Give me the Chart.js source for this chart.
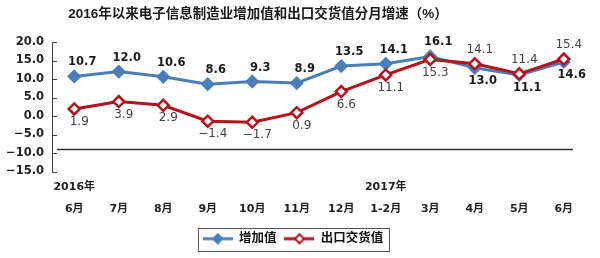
<!DOCTYPE html>
<html>
<head>
<meta charset="utf-8">
<script src="https://cdn.jsdelivr.net/npm/chart.js@4.4.1/dist/chart.umd.min.js"></script>
<style>
  html, body { margin:0; padding:0; background:#fff; }
  #wrap { width:600px; height:258px; }
</style>
</head>
<body>
<div id="wrap"><canvas id="chart" width="600" height="258"></canvas></div>
<script>
// ================= DATA =================
const months = ["6月","7月","8月","9月","10月","11月","12月","1-2月","3月","4月","5月","6月"];
const years = ["2016年","","","","","","","2017年","","","",""];
const addedValue = [10.7,12.0,10.6,8.6,9.3,8.9,13.5,14.1,16.1,13.0,11.1,14.6];
const exportValue = [1.9,3.9,2.9,-1.4,-1.7,0.9,6.6,11.1,15.3,14.1,11.4,15.4];
const yMin = -15, yMax = 20, yStep = 5;
const refLineValue = -9;
const titleText = "2016年以来电子信息制造业增加值和出口交货值分月增速（%）";

const BLUE = "#4a7ebb";
const RED = "#b5121b";
const flipIndex = 9; // from 4月 on, labels swap sides

const fmt = v => v.toFixed(1).replace("-", "−");

// legend icons: line with a diamond in the middle
function legendIcon(color, fill){
    const c = document.createElement("canvas");
    c.width = 30; c.height = 12;
    const g = c.getContext("2d");
    g.strokeStyle = color; g.lineWidth = 3;
    g.beginPath(); g.moveTo(0,6); g.lineTo(30,6); g.stroke();
    g.beginPath();
    g.moveTo(15,1.5); g.lineTo(19.5,6); g.lineTo(15,10.5); g.lineTo(10.5,6); g.closePath();
    g.fillStyle = fill; g.fill();
    g.lineWidth = 2; g.stroke();
    return c;
}
const icons = [legendIcon(BLUE, BLUE), legendIcon(RED, "#fff")];

// ================= PLUGINS =================
const extras = {
    id: "extras",
    beforeDatasetsDraw(chart){
        const {ctx, chartArea, scales:{y}} = chart;
        ctx.save();
        // reference line
        const ry = Math.round(y.getPixelForValue(refLineValue)) + 0.5;
        ctx.strokeStyle = "#333"; ctx.lineWidth = 1.5;
        ctx.beginPath(); ctx.moveTo(chartArea.left + 5, ry); ctx.lineTo(chartArea.right - 13, ry); ctx.stroke();
        // inner tick marks
        ctx.lineWidth = 1; ctx.strokeStyle = "#444";
        y.ticks.forEach(t => {
            const py = Math.round(y.getPixelForValue(t.value)) + 0.5;
            ctx.beginPath(); ctx.moveTo(chartArea.left, py); ctx.lineTo(chartArea.left + 5, py); ctx.stroke();
        });
        ctx.restore();
    },
    afterDatasetsDraw(chart){
        const ctx = chart.ctx;
        ctx.save();
        ctx.textAlign = "center"; ctx.textBaseline = "middle";
        chart.data.datasets.forEach((ds, i) => {
            const meta = chart.getDatasetMeta(i);
            meta.data.forEach((pt, j) => {
                const above = i === 0 ? j < flipIndex : j >= flipIndex;
                if(i === 0){ ctx.font = "bold 11.5px 'DejaVu Sans'"; ctx.fillStyle = "#1a1a1a"; }
                else { ctx.font = "12px 'DejaVu Sans'"; ctx.fillStyle = "#444"; }
                const dx = i === 0 ? 8 : 5;
                ctx.fillText(fmt(ds.data[j]), pt.x + dx, pt.y + (above ? -14 : 13));
            });
        });
        ctx.restore();
    },
    afterDraw(chart){
        const ctx = chart.ctx;
        ctx.save();
        // title
        ctx.font = "bold 13.5px 'Liberation Sans','Noto Sans CJK SC'";
        ctx.fillStyle = "#1a1a1a"; ctx.textAlign = "center"; ctx.textBaseline = "middle";
        ctx.fillText(titleText, 258, 14);
        // legend frame
        const boxes = chart.legend.legendHitBoxes;
        if(boxes && boxes.length){
            const l = Math.min(...boxes.map(b => b.left)) - 5;
            const r = Math.max(...boxes.map(b => b.left + b.width)) + 5;
            const t = Math.min(...boxes.map(b => b.top)) - 5;
            const b2 = Math.max(...boxes.map(b => b.top + b.height)) + 5;
            ctx.strokeStyle = "#555"; ctx.lineWidth = 1;
            ctx.strokeRect(Math.round(l) + 0.5, Math.round(t) + 0.5, Math.round(r - l), Math.round(b2 - t));
        }
        ctx.restore();
    }
};

// ================= CHART =================
new Chart(document.getElementById("chart"), {
    type: "line",
    data: {
        labels: months.map((m, i) => [years[i], m]),
        datasets: [
            {
                label: "增加值", data: addedValue, order: 2,
                borderColor: BLUE, backgroundColor: BLUE, borderWidth: 3,
                pointStyle: "rectRot", pointRadius: 5, pointBackgroundColor: BLUE, pointBorderColor: BLUE,
                tension: 0
            },
            {
                label: "出口交货值", data: exportValue, order: 1,
                borderColor: RED, backgroundColor: RED, borderWidth: 3,
                pointStyle: "rectRot", pointRadius: 5.5, pointBorderWidth: 2.5,
                pointBackgroundColor: "#fff", pointBorderColor: RED,
                tension: 0
            }
        ]
    },
    options: {
        responsive: false,
        animation: false,
        layout: { padding: { top: 42, right: 14, bottom: 3, left: 0 } },
        plugins: {
            title: { display: false },
            tooltip: { enabled: false },
            legend: {
                position: "bottom",
                labels: {
                    usePointStyle: true,
                    pointStyleWidth: 30,
                    boxHeight: 12,
                    padding: 8,
                    color: "#111",
                    font: { family: "'Liberation Sans','Noto Sans CJK SC'", size: 12.5, weight: "bold" },
                    sort: (a, b) => a.datasetIndex - b.datasetIndex,
                    generateLabels(chart){
                        const items = Chart.defaults.plugins.legend.labels.generateLabels(chart);
                        items.forEach(it => { it.pointStyle = icons[it.datasetIndex]; });
                        return items;
                    }
                }
            }
        },
        scales: {
            x: {
                offset: true,
                grid: { display: false },
                border: { display: false },
                ticks: {
                    color: "#222", padding: -3, maxRotation: 0, autoSkip: false,
                    font: { family: "'DejaVu Sans','Noto Sans CJK SC'", size: 11, weight: "bold", lineHeight: 2 }
                },
                afterFit(s){ s.height = 53; }
            },
            y: {
                min: yMin, max: yMax,
                grid: { display: false, drawTicks: false },
                border: { display: true, color: "#444", width: 1 },
                ticks: {
                    stepSize: yStep, padding: 8, color: "#222",
                    font: { family: "'DejaVu Sans'", size: 11.5, weight: "bold" },
                    callback: v => fmt(v)
                },
                afterFit(s){ s.width = 52; }
            }
        }
    },
    plugins: [extras]
});
</script>
</body>
</html>
